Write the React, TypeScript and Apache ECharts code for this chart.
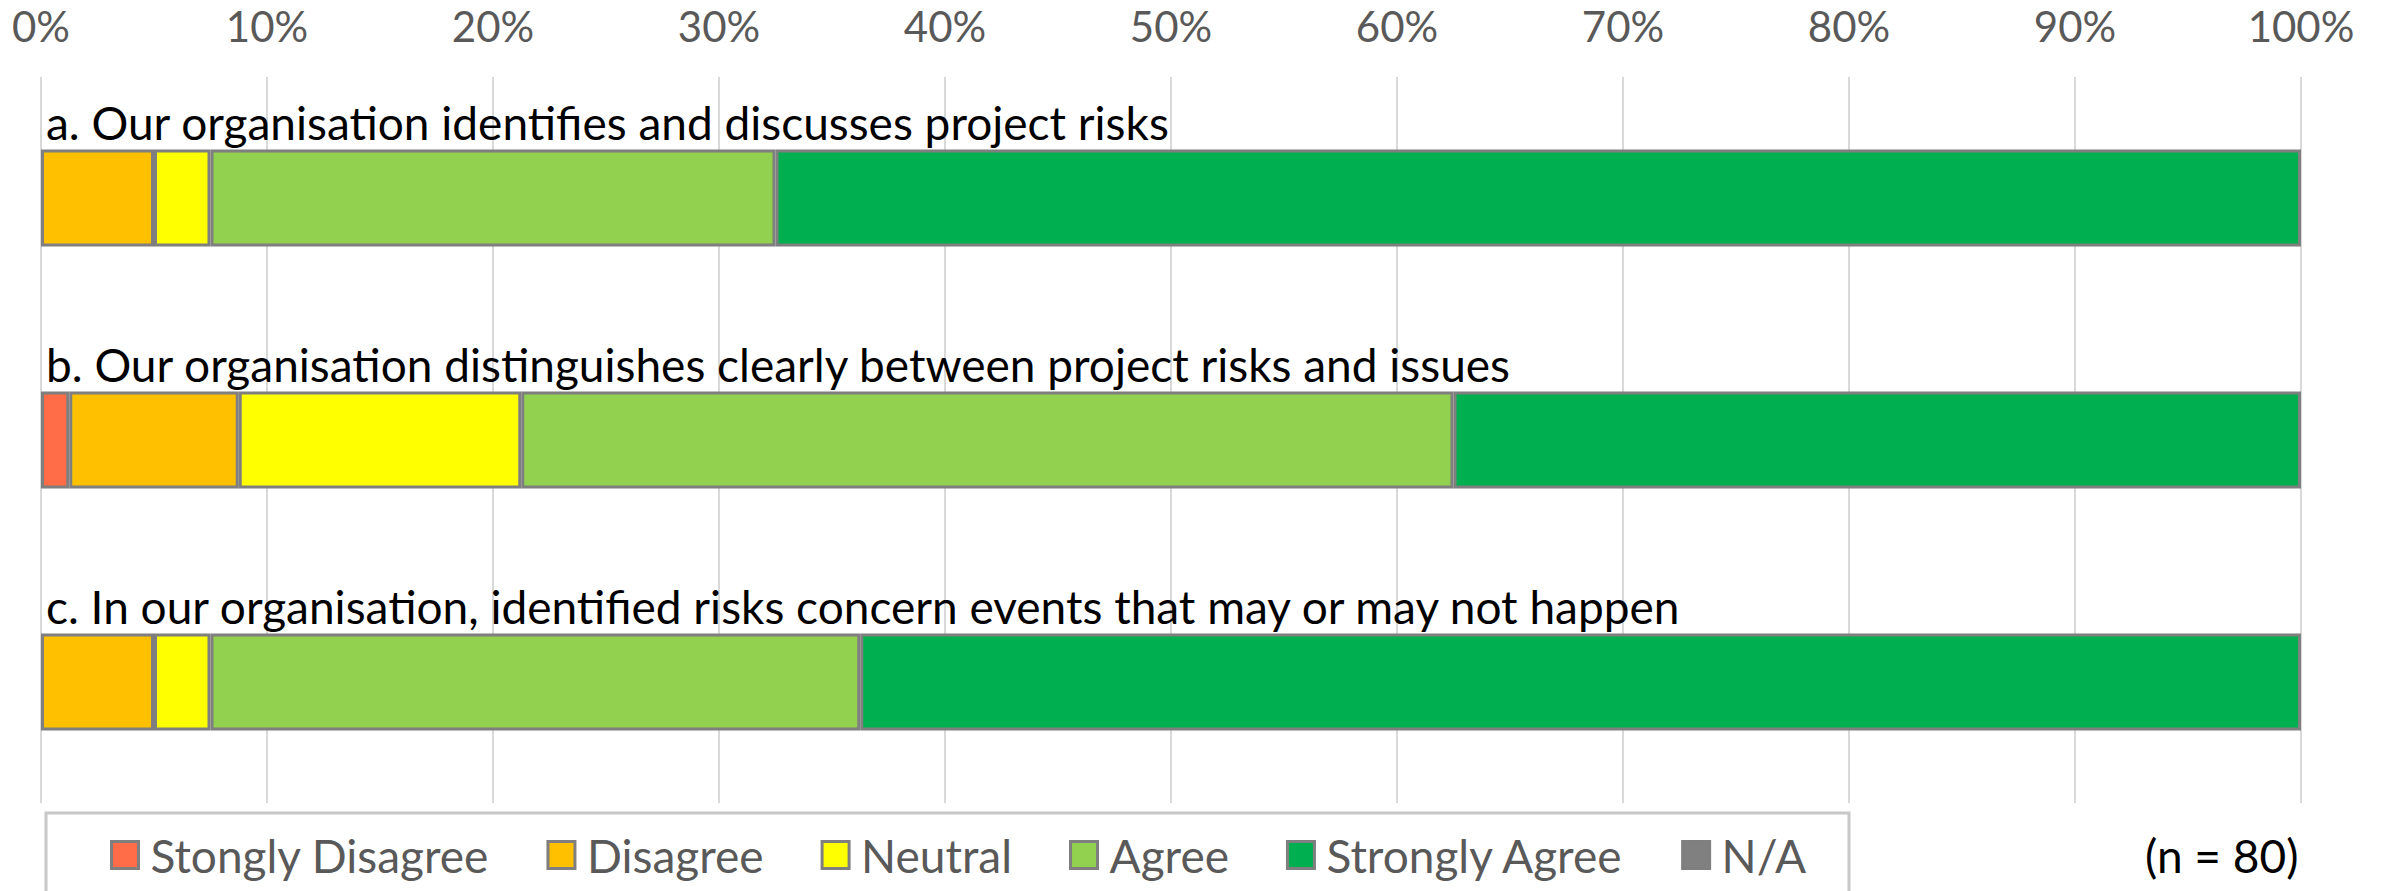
import React, { useEffect, useRef } from "react";
import * as echarts from "echarts";

const categories = [
  "a. Our organisation identifies and discusses project risks",
  "b. Our organisation distinguishes clearly between project risks and issues",
  "c. In our organisation, identified risks concern events that may or may not happen",
];
const seriesNames = ["Stongly Disagree", "Disagree", "Neutral", "Agree", "Strongly Agree", "N/A"];
const stronglyDisagree = [0, 1.25, 0];
const disagree = [5, 7.5, 5];
const neutral = [2.5, 12.5, 2.5];
const agree = [25, 41.25, 28.75];
const stronglyAgree = [67.5, 37.5, 63.75];
const notApplicable = [0, 0, 0];
const colors = ["#FF6C47", "#FFC000", "#FFFF00", "#92D050", "#00B050", "#808080"];
const sampleNote = "(n = 80)";

const FONT = "Lato, Carlito, Calibri, sans-serif";

export default function App() {
  const ref = useRef<HTMLDivElement>(null);
  useEffect(() => {
    document.body.style.margin = "0";
    const chart = echarts.init(ref.current!, null, { renderer: "svg" });
    const values = [stronglyDisagree, disagree, neutral, agree, stronglyAgree, notApplicable];
    const series = seriesNames.map((name, i) => ({
      name,
      type: "bar",
      stack: "total",
      barWidth: "40%",
      data: values[i].map((v) => (v === 0 ? null : v)),
      itemStyle: { color: colors[i], borderColor: "#7f7f7f", borderWidth: 3 },
    }));
    chart.setOption({
      animation: false,
      textStyle: { fontFamily: FONT },
      grid: { left: 41, right: 81, top: 77, height: 726, containLabel: false },
      xAxis: {
        type: "value",
        position: "top",
        min: 0,
        max: 100,
        interval: 10,
        axisLine: { show: false },
        axisTick: { show: false },
        splitLine: { lineStyle: { color: "#d9d9d9", width: 2 } },
        axisLabel: {
          formatter: "{value}%",
          color: "#595959",
          fontSize: 42,
          fontFamily: FONT,
          margin: 30,
        },
      },
      yAxis: {
        type: "category",
        inverse: true,
        data: categories,
        axisLine: { show: false },
        axisTick: { show: false },
        axisLabel: {
          inside: true,
          margin: 5,
          color: "#000000",
          fontSize: 46,
          fontFamily: FONT,
          verticalAlign: "bottom",
          lineHeight: 46,
          padding: [0, 0, 53, 0],
        },
      },
      legend: {
        left: 105,
        top: 827,
        itemWidth: 27,
        itemHeight: 27,
        itemGap: 57,
        icon: "rect",
        textStyle: { color: "#595959", fontSize: 46, fontFamily: FONT, padding: [0, 0, 0, 7] },
        itemStyle: { borderColor: "#7f7f7f", borderWidth: 3 },
        data: seriesNames,
      },
      graphic: [
        {
          type: "rect",
          shape: { x: 46, y: 813, width: 1803, height: 200 },
          style: { fill: "none", stroke: "#c8c8c8", lineWidth: 3 },
          silent: true,
        },
        {
          type: "text",
          x: 2145,
          y: 855,
          style: {
            text: sampleNote,
            fill: "#000000",
            fontSize: 46,
            fontFamily: FONT,
            verticalAlign: "middle",
            textAlign: "left",
          },
        },
      ],
      series,
    });
    return () => chart.dispose();
  }, []);
  return <div ref={ref} style={{ width: 2382, height: 891 }} />;
}
